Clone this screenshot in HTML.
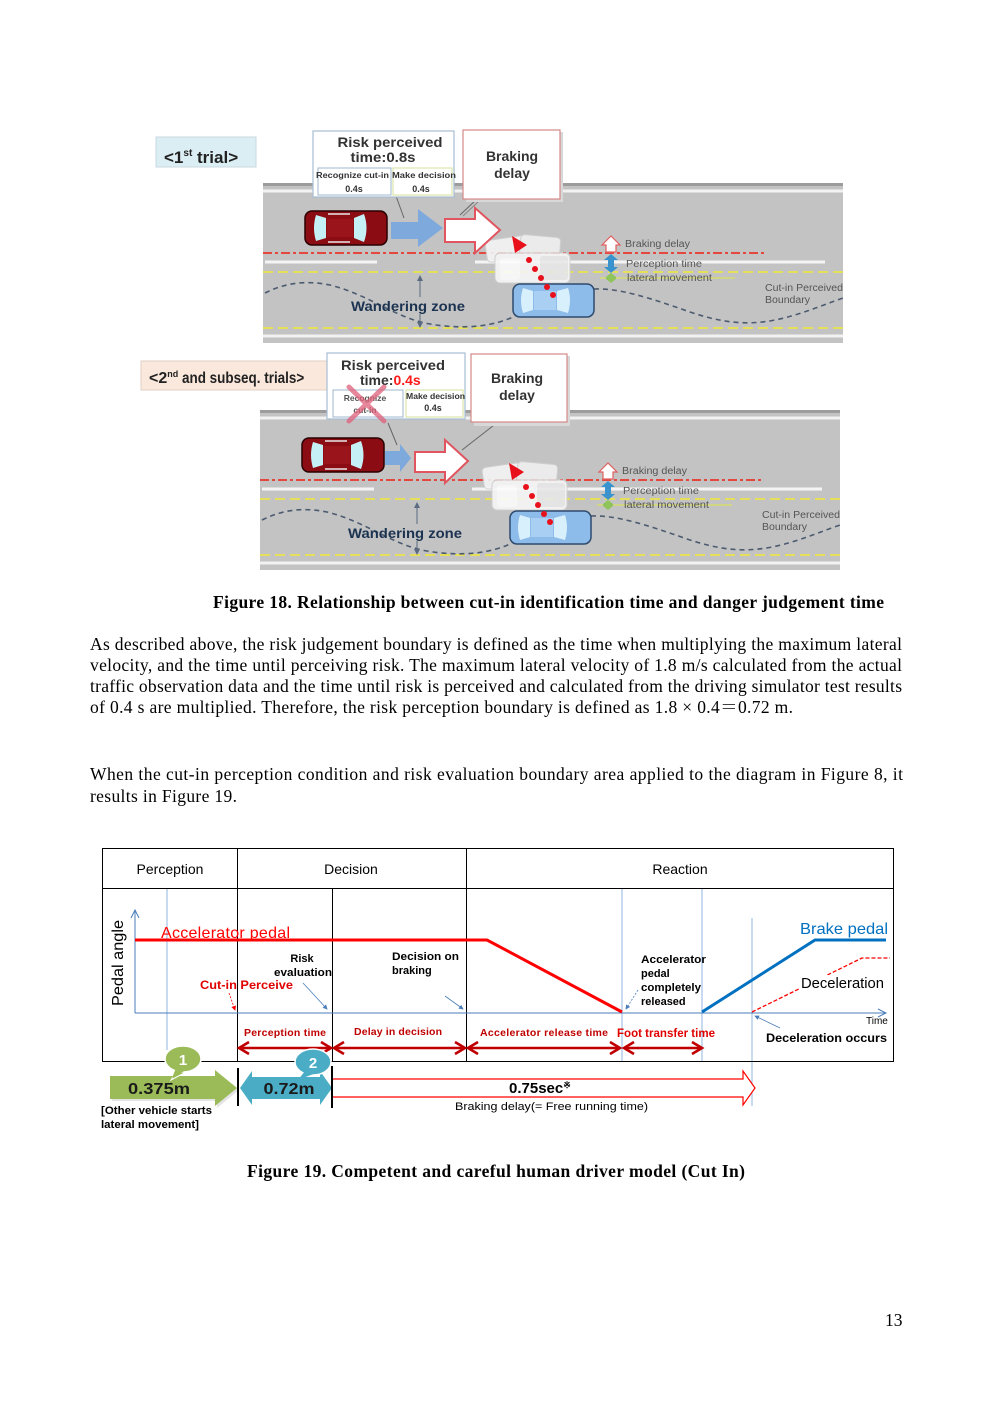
<!DOCTYPE html>
<html><head><meta charset="utf-8">
<style>
html,body{margin:0;padding:0;background:#fff;}
svg{display:block;}
.s{font-family:"Liberation Sans",sans-serif;}
.r{font-family:"Liberation Serif","Noto Serif CJK SC",serif;}
</style></head>
<body>
<svg width="992" height="1403" viewBox="0 0 992 1403" xmlns="http://www.w3.org/2000/svg">
<defs>
<marker id="ab" markerWidth="6" markerHeight="6" refX="5" refY="3" orient="auto" markerUnits="strokeWidth"><path d="M0,0 L6,3 L0,6Z" fill="#4a7ebb"/></marker>
<marker id="ar" markerWidth="6" markerHeight="6" refX="5" refY="3" orient="auto" markerUnits="strokeWidth"><path d="M0,0 L6,3 L0,6Z" fill="#ff0000"/></marker>
</defs>
<rect width="992" height="1403" fill="#fff"/>

<!-- ===================== FIGURE 18 : 1st trial ===================== -->
<g id="road1">
<rect x="263" y="183" width="580" height="160" fill="#c3c3c3"/>
<rect x="263" y="183" width="580" height="3" fill="#9c9c9c"/>
<line x1="263" y1="191" x2="843" y2="191" stroke="#f2f2f2" stroke-width="3"/>
<line x1="263" y1="253" x2="765" y2="253" stroke="#e4473d" stroke-width="2" stroke-dasharray="9 3 3 3"/>
<line x1="265" y1="262" x2="377" y2="262" stroke="#f4f4f4" stroke-width="3"/>
<line x1="475" y1="262" x2="825" y2="262" stroke="#f4f4f4" stroke-width="3"/>
<line x1="263" y1="272" x2="843" y2="272" stroke="#e6df5a" stroke-width="2" stroke-dasharray="10 5"/>
<line x1="600" y1="278" x2="735" y2="278" stroke="#d6dc70" stroke-width="1.5"/>
<line x1="263" y1="328" x2="843" y2="328" stroke="#e6df5a" stroke-width="2" stroke-dasharray="10 5"/>
<line x1="263" y1="336" x2="843" y2="336" stroke="#f2f2f2" stroke-width="3"/>
<path d="M265,293 C285,283 305,280 330,285 C370,295 395,318 430,324 C465,330 495,326 515,316 M594,289 C620,288 650,298 690,312 C720,322 745,326 775,320 C800,315 820,306 843,298" fill="none" stroke="#4d5b70" stroke-width="1.6" stroke-dasharray="5 4"/>
<line x1="420" y1="277" x2="420" y2="297" stroke="#5a6a80" stroke-width="1"/>
<line x1="420" y1="314" x2="420" y2="326" stroke="#5a6a80" stroke-width="1"/>
<path d="M417,281 L420,275 L423,281Z M417,322 L420,328 L423,322Z" fill="#5a6a80"/>
<text x="351" y="311" class="s" font-size="14" font-weight="bold" fill="#1b3350" textLength="114" lengthAdjust="spacingAndGlyphs">Wandering zone</text>
<g opacity="0.9">
<rect x="486" y="238" width="40" height="22" rx="4" fill="#f4f4f4" stroke="#d0d0d0" transform="rotate(-8 506 249)"/>
<rect x="520" y="236" width="40" height="24" rx="4" fill="#f0f0f0" stroke="#d0d0d0" transform="rotate(5 540 248)"/>
<rect x="495" y="253" width="75" height="30" rx="5" fill="#f6f6f6" stroke="#d0d0d0"/>
<rect x="540" y="256" width="28" height="24" rx="3" fill="#e8e8e8"/>
<rect x="500" y="258" width="20" height="22" rx="3" fill="#fcfcfc"/>
</g>
<rect x="513" y="284" width="81" height="33" rx="7" fill="#8dbbea" stroke="#2e4b6e" stroke-width="1.5"/>
<path d="M523,288 L533,291 L533,310 L523,313 Q519,300 523,288Z" fill="#d8f0fb"/>
<path d="M557,291 L568,288 Q572,300 568,313 L557,310Z" fill="#d8f0fb"/>
<rect x="534" y="291" width="22" height="19" fill="#a9d0f3"/>
<rect x="305" y="211" width="82" height="34" rx="7" fill="#8c0c14" stroke="#2a0000" stroke-width="1.5"/>
<path d="M316,215 L326,218 L326,238 L316,241 Q312,228 316,215Z" fill="#c4f0f6"/>
<path d="M354,218 L364,214 Q369,228 364,242 L354,238Z" fill="#c4f0f6"/>
<rect x="327" y="219" width="26" height="18" fill="#9a141c"/>
<line x1="328" y1="214" x2="350" y2="214" stroke="#e8e8e8" stroke-width="1.5"/>
<line x1="328" y1="242" x2="350" y2="242" stroke="#e8e8e8" stroke-width="1.5"/>
<g fill="#e8101a">
<circle cx="553" cy="295" r="3"/><circle cx="547" cy="287" r="3"/><circle cx="541" cy="278" r="3"/><circle cx="535" cy="269" r="3"/><circle cx="529" cy="260" r="3"/>
<polygon points="512,236 527,245 515,253"/>
</g>
<polygon points="602,245 611,236 620,245 616,245 616,252 606,252 606,245" fill="#fff" stroke="#e06060" stroke-width="1.2"/>
<polygon points="611,254 618,260 614,260 614,267 618,267 611,273 604,267 608,267 608,260 604,260" fill="#3a93cc"/>
<polygon points="606,277 611,273 616,277 616,279 611,283 606,279" fill="#8fc45a"/>
<text x="625" y="247" class="s" font-size="10" fill="#555" textLength="65" lengthAdjust="spacingAndGlyphs">Braking delay</text>
<text x="626" y="267" class="s" font-size="10" fill="#555" textLength="76" lengthAdjust="spacingAndGlyphs">Perception time</text>
<text x="627" y="281" class="s" font-size="10" fill="#555" textLength="85" lengthAdjust="spacingAndGlyphs">lateral movement</text>
<text x="765" y="291" class="s" font-size="10" fill="#555" textLength="78" lengthAdjust="spacingAndGlyphs">Cut-in Perceived</text>
<text x="765" y="303" class="s" font-size="10" fill="#555" textLength="45" lengthAdjust="spacingAndGlyphs">Boundary</text>
</g>

<polygon points="391,222 418,222 418,209 443,228 418,247 418,239 391,239" fill="#7ea9dd"/>
<polygon points="445,219 475,219 475,208 500,230 475,253 475,242 445,242" fill="#fff" stroke="#e05560" stroke-width="2"/>
<line x1="396" y1="196" x2="404" y2="218" stroke="#666" stroke-width="1"/>
<line x1="477" y1="199" x2="460" y2="215" stroke="#666" stroke-width="1"/>
<line x1="480" y1="200" x2="463" y2="216" stroke="#888" stroke-width="1"/>

<rect x="156" y="137" width="100" height="30" fill="#dbeef4" stroke="#c8d8e0" stroke-width="1"/>
<text x="164" y="163" class="s" font-size="17" font-weight="bold" fill="#222">&lt;1<tspan font-size="10" dy="-7">st</tspan><tspan dy="7"> trial&gt;</tspan></text>

<rect x="313" y="131" width="141" height="66" fill="#fff" stroke="#a6bfd6" stroke-width="1.2"/>
<text x="390" y="147" class="s" font-size="14" font-weight="bold" fill="#333" text-anchor="middle" textLength="105" lengthAdjust="spacingAndGlyphs">Risk perceived</text>
<text x="383" y="162" class="s" font-size="14" font-weight="bold" fill="#333" text-anchor="middle" textLength="65" lengthAdjust="spacingAndGlyphs">time:0.8s</text>
<rect x="318" y="168" width="73" height="27" fill="#fff" stroke="#9fb7cc" stroke-width="1"/>
<rect x="393" y="168" width="59" height="27" fill="#fff" stroke="#d6df9a" stroke-width="1"/>
<text x="316" y="178" class="s" font-size="8" font-weight="bold" fill="#333" textLength="73" lengthAdjust="spacingAndGlyphs">Recognize cut-in</text>
<text x="392" y="178" class="s" font-size="8" font-weight="bold" fill="#333" textLength="64" lengthAdjust="spacingAndGlyphs">Make decision</text>
<text x="354" y="192" class="s" font-size="9" font-weight="bold" fill="#333" text-anchor="middle">0.4s</text>
<text x="421" y="192" class="s" font-size="9" font-weight="bold" fill="#333" text-anchor="middle">0.4s</text>
<rect x="466" y="132" width="97" height="70" fill="#d8d8d8"/>
<rect x="463" y="130" width="97" height="69" fill="#fff" stroke="#d48888" stroke-width="1.2"/>
<text x="512" y="161" class="s" font-size="14" font-weight="bold" fill="#333" text-anchor="middle">Braking</text>
<text x="512" y="178" class="s" font-size="14" font-weight="bold" fill="#333" text-anchor="middle">delay</text>

<!-- ===================== FIGURE 18 : 2nd trials ===================== -->
<g transform="translate(-3,227)">
<rect x="263" y="183" width="580" height="160" fill="#c3c3c3"/>
<rect x="263" y="183" width="580" height="3" fill="#9c9c9c"/>
<line x1="263" y1="191" x2="843" y2="191" stroke="#f2f2f2" stroke-width="3"/>
<line x1="263" y1="253" x2="765" y2="253" stroke="#e4473d" stroke-width="2" stroke-dasharray="9 3 3 3"/>
<line x1="265" y1="262" x2="377" y2="262" stroke="#f4f4f4" stroke-width="3"/>
<line x1="475" y1="262" x2="825" y2="262" stroke="#f4f4f4" stroke-width="3"/>
<line x1="263" y1="272" x2="843" y2="272" stroke="#e6df5a" stroke-width="2" stroke-dasharray="10 5"/>
<line x1="600" y1="278" x2="735" y2="278" stroke="#d6dc70" stroke-width="1.5"/>
<line x1="263" y1="328" x2="843" y2="328" stroke="#e6df5a" stroke-width="2" stroke-dasharray="10 5"/>
<line x1="263" y1="336" x2="843" y2="336" stroke="#f2f2f2" stroke-width="3"/>
<path d="M265,293 C285,283 305,280 330,285 C370,295 395,318 430,324 C465,330 495,326 515,316 M594,289 C620,288 650,298 690,312 C720,322 745,326 775,320 C800,315 820,306 843,298" fill="none" stroke="#4d5b70" stroke-width="1.6" stroke-dasharray="5 4"/>
<line x1="420" y1="277" x2="420" y2="297" stroke="#5a6a80" stroke-width="1"/>
<line x1="420" y1="314" x2="420" y2="326" stroke="#5a6a80" stroke-width="1"/>
<path d="M417,281 L420,275 L423,281Z M417,322 L420,328 L423,322Z" fill="#5a6a80"/>
<text x="351" y="311" class="s" font-size="14" font-weight="bold" fill="#1b3350" textLength="114" lengthAdjust="spacingAndGlyphs">Wandering zone</text>
<g opacity="0.9">
<rect x="486" y="238" width="40" height="22" rx="4" fill="#f4f4f4" stroke="#d0d0d0" transform="rotate(-8 506 249)"/>
<rect x="520" y="236" width="40" height="24" rx="4" fill="#f0f0f0" stroke="#d0d0d0" transform="rotate(5 540 248)"/>
<rect x="495" y="253" width="75" height="30" rx="5" fill="#f6f6f6" stroke="#d0d0d0"/>
<rect x="540" y="256" width="28" height="24" rx="3" fill="#e8e8e8"/>
<rect x="500" y="258" width="20" height="22" rx="3" fill="#fcfcfc"/>
</g>
<rect x="513" y="284" width="81" height="33" rx="7" fill="#8dbbea" stroke="#2e4b6e" stroke-width="1.5"/>
<path d="M523,288 L533,291 L533,310 L523,313 Q519,300 523,288Z" fill="#d8f0fb"/>
<path d="M557,291 L568,288 Q572,300 568,313 L557,310Z" fill="#d8f0fb"/>
<rect x="534" y="291" width="22" height="19" fill="#a9d0f3"/>
<rect x="305" y="211" width="82" height="34" rx="7" fill="#8c0c14" stroke="#2a0000" stroke-width="1.5"/>
<path d="M316,215 L326,218 L326,238 L316,241 Q312,228 316,215Z" fill="#c4f0f6"/>
<path d="M354,218 L364,214 Q369,228 364,242 L354,238Z" fill="#c4f0f6"/>
<rect x="327" y="219" width="26" height="18" fill="#9a141c"/>
<line x1="328" y1="214" x2="350" y2="214" stroke="#e8e8e8" stroke-width="1.5"/>
<line x1="328" y1="242" x2="350" y2="242" stroke="#e8e8e8" stroke-width="1.5"/>
<g fill="#e8101a">
<circle cx="553" cy="295" r="3"/><circle cx="547" cy="287" r="3"/><circle cx="541" cy="278" r="3"/><circle cx="535" cy="269" r="3"/><circle cx="529" cy="260" r="3"/>
<polygon points="512,236 527,245 515,253"/>
</g>
<polygon points="602,245 611,236 620,245 616,245 616,252 606,252 606,245" fill="#fff" stroke="#e06060" stroke-width="1.2"/>
<polygon points="611,254 618,260 614,260 614,267 618,267 611,273 604,267 608,267 608,260 604,260" fill="#3a93cc"/>
<polygon points="606,277 611,273 616,277 616,279 611,283 606,279" fill="#8fc45a"/>
<text x="625" y="247" class="s" font-size="10" fill="#555" textLength="65" lengthAdjust="spacingAndGlyphs">Braking delay</text>
<text x="626" y="267" class="s" font-size="10" fill="#555" textLength="76" lengthAdjust="spacingAndGlyphs">Perception time</text>
<text x="627" y="281" class="s" font-size="10" fill="#555" textLength="85" lengthAdjust="spacingAndGlyphs">lateral movement</text>
<text x="765" y="291" class="s" font-size="10" fill="#555" textLength="78" lengthAdjust="spacingAndGlyphs">Cut-in Perceived</text>
<text x="765" y="303" class="s" font-size="10" fill="#555" textLength="45" lengthAdjust="spacingAndGlyphs">Boundary</text>
</g>

<polygon points="385,451 400,451 400,444 411,458 400,472 400,465 385,465" fill="#7ea9dd"/>
<polygon points="415,452 445,452 445,440 468,461 445,483 445,472 415,472" fill="#fff" stroke="#e05560" stroke-width="2"/>
<line x1="388" y1="423" x2="397" y2="445" stroke="#666" stroke-width="1"/>
<line x1="498" y1="422" x2="462" y2="450" stroke="#666" stroke-width="1"/>

<rect x="141" y="361" width="186" height="29" fill="#fae8dc" stroke="#e0cfc4" stroke-width="1"/>
<text x="149" y="383" class="s" font-size="16" font-weight="bold" fill="#222">&lt;2<tspan font-size="9" dy="-6">nd</tspan><tspan dy="6" textLength="126" lengthAdjust="spacingAndGlyphs"> and subseq. trials&gt;</tspan></text>

<rect x="327" y="353" width="138" height="66" fill="#fff" stroke="#a6bfd6" stroke-width="1.2"/>
<text x="393" y="370" class="s" font-size="14" font-weight="bold" fill="#333" text-anchor="middle" textLength="104" lengthAdjust="spacingAndGlyphs">Risk perceived</text>
<text x="360" y="385" class="s" font-size="14" font-weight="bold" fill="#333">time:<tspan fill="#ff1a1a">0.4s</tspan></text>
<rect x="333" y="390" width="70" height="27" fill="#fff" stroke="#9fb7cc" stroke-width="1"/>
<rect x="406" y="390" width="57" height="27" fill="#fff" stroke="#d6df9a" stroke-width="1"/>
<text x="365" y="401" class="s" font-size="8.5" font-weight="bold" fill="#555" text-anchor="middle">Recognize</text>
<text x="365" y="413" class="s" font-size="8.5" font-weight="bold" fill="#555" text-anchor="middle">cut-in</text>
<text x="406" y="399" class="s" font-size="8" font-weight="bold" fill="#333" textLength="59" lengthAdjust="spacingAndGlyphs">Make decision</text>
<text x="433" y="411" class="s" font-size="9" font-weight="bold" fill="#333" text-anchor="middle">0.4s</text>
<g stroke="#e0607a" stroke-width="5" opacity="0.75" stroke-linecap="round">
<line x1="349" y1="387" x2="384" y2="421"/>
<line x1="384" y1="387" x2="349" y2="421"/>
</g>
<rect x="474" y="356" width="96" height="70" fill="#d8d8d8"/>
<rect x="471" y="354" width="96" height="68" fill="#fff" stroke="#d48888" stroke-width="1.2"/>
<text x="517" y="383" class="s" font-size="14" font-weight="bold" fill="#333" text-anchor="middle">Braking</text>
<text x="517" y="400" class="s" font-size="14" font-weight="bold" fill="#333" text-anchor="middle">delay</text>

<!-- ===================== TEXT ===================== -->
<text x="213" y="608" class="r" font-size="17.5" font-weight="bold" fill="#000" textLength="671" lengthAdjust="spacing">Figure 18. Relationship between cut-in identification time and danger judgement time</text>
<g class="r" font-size="17.5" fill="#000">
<text x="90" y="650" textLength="812" lengthAdjust="spacing">As described above, the risk judgement boundary is defined as the time when multiplying the maximum lateral</text>
<text x="90" y="671" textLength="812" lengthAdjust="spacing">velocity, and the time until perceiving risk. The maximum lateral velocity of 1.8 m/s calculated from the actual</text>
<text x="90" y="692" textLength="812" lengthAdjust="spacing">traffic observation data and the time until risk is perceived and calculated from the driving simulator test results</text>
<text x="90" y="713" textLength="703" lengthAdjust="spacing">of 0.4 s are multiplied. Therefore, the risk perception boundary is defined as 1.8 × 0.4＝0.72 m.</text>
<text x="90" y="780" textLength="813" lengthAdjust="spacing">When the cut-in perception condition and risk evaluation boundary area applied to the diagram in Figure 8, it</text>
<text x="90" y="802" textLength="147" lengthAdjust="spacing">results in Figure 19.</text>
</g>

<!-- ===================== FIGURE 19 ===================== -->
<g stroke="#8fb4e0" stroke-width="1">
<line x1="167" y1="888" x2="167" y2="1050"/>
<line x1="622" y1="888" x2="622" y2="1062"/>
<line x1="702" y1="888" x2="702" y2="1062"/>
<line x1="752" y1="918" x2="752" y2="1106"/>
</g>
<g stroke="#000" stroke-width="1" fill="none">
<rect x="102.5" y="848.5" width="791" height="213"/>
<line x1="102" y1="888.5" x2="894" y2="888.5"/>
<line x1="237.5" y1="848" x2="237.5" y2="1062"/>
<line x1="466.5" y1="848" x2="466.5" y2="1062"/>
<line x1="332.5" y1="888" x2="332.5" y2="1062"/>
</g>
<g class="s" font-size="14" fill="#000" text-anchor="middle">
<text x="170" y="874">Perception</text>
<text x="351" y="874">Decision</text>
<text x="680" y="874">Reaction</text>
</g>
<g stroke="#4a7ebb" stroke-width="1" fill="none">
<line x1="135" y1="1013" x2="135" y2="910"/>
<polyline points="131,918 135,910 139,918"/>
<line x1="135" y1="1013" x2="886" y2="1013"/>
<polyline points="878,1009 886,1013 878,1017"/>
</g>
<text transform="translate(123,1006) rotate(-90)" class="s" font-size="16" fill="#000" textLength="86" lengthAdjust="spacingAndGlyphs">Pedal angle</text>
<polyline points="135,940 487,940 622,1012" fill="none" stroke="#ff0000" stroke-width="3"/>
<polyline points="702,1012 815,940 886,940" fill="none" stroke="#0070c0" stroke-width="3"/>
<polyline points="752,1012 862,958 890,958" fill="none" stroke="#ff0000" stroke-width="1.3" stroke-dasharray="4 2"/>
<text x="161" y="938" class="s" font-size="16" fill="#ff0000" textLength="129" lengthAdjust="spacing">Accelerator  pedal</text>
<text x="800" y="934" class="s" font-size="16" fill="#0070c0" textLength="88" lengthAdjust="spacingAndGlyphs">Brake pedal</text>
<rect x="799" y="975" width="88" height="17" fill="#fff"/>
<text x="801" y="988" class="s" font-size="15" fill="#000" textLength="83" lengthAdjust="spacingAndGlyphs">Deceleration</text>
<text x="866" y="1024" class="s" font-size="10" fill="#000">Time</text>
<text x="766" y="1042" class="s" font-size="12" font-weight="bold" fill="#000" textLength="121" lengthAdjust="spacingAndGlyphs">Deceleration occurs</text>
<g class="s" font-size="11" font-weight="bold" fill="#000">
<text x="302" y="962" text-anchor="middle">Risk</text>
<text x="274" y="976" textLength="58" lengthAdjust="spacingAndGlyphs">evaluation</text>
<text x="392" y="960" textLength="67" lengthAdjust="spacingAndGlyphs">Decision on</text>
<text x="392" y="974">braking</text>
<text x="641" y="963" textLength="65" lengthAdjust="spacingAndGlyphs">Accelerator</text>
<text x="641" y="977">pedal</text>
<text x="641" y="991" textLength="60" lengthAdjust="spacingAndGlyphs">completely</text>
<text x="641" y="1005">released</text>
</g>
<text x="200" y="989" class="s" font-size="12" font-weight="bold" fill="#e00000" textLength="93" lengthAdjust="spacingAndGlyphs">Cut-in Perceive</text>
<g stroke="#4a7ebb" stroke-width="0.8" fill="none">
<line x1="303" y1="983" x2="327" y2="1009" marker-end="url(#ab)"/>
<line x1="445" y1="996" x2="463" y2="1009" marker-end="url(#ab)"/>
<line x1="638" y1="990" x2="626" y2="1009" stroke-dasharray="2 1.5" marker-end="url(#ab)"/>
<line x1="780" y1="1028" x2="755" y2="1016" marker-end="url(#ab)"/>
</g>
<line x1="229" y1="993" x2="235" y2="1010" stroke="#ff0000" stroke-width="0.8" stroke-dasharray="2 1.5" marker-end="url(#ar)"/>
<g class="s" font-size="10.5" font-weight="bold" fill="#c00000">
<text x="244" y="1036" textLength="82" lengthAdjust="spacing">Perception  time</text>
<text x="354" y="1035" textLength="88" lengthAdjust="spacing">Delay  in  decision</text>
<text x="480" y="1036" textLength="128" lengthAdjust="spacing">Accelerator  release  time</text>
</g>
<text x="617" y="1037" class="s" font-size="11.5" font-weight="bold" fill="#e00000" textLength="98" lengthAdjust="spacingAndGlyphs">Foot transfer time</text>
<g stroke="#c00000" stroke-width="2.6" fill="none">
<line x1="239" y1="1048" x2="331" y2="1048"/>
<polyline points="249,1042 239,1048 249,1054"/><polyline points="321,1042 331,1048 321,1054"/>
<line x1="334" y1="1048" x2="465" y2="1048"/>
<polyline points="344,1042 334,1048 344,1054"/><polyline points="455,1042 465,1048 455,1054"/>
<line x1="468" y1="1048" x2="620" y2="1048"/>
<polyline points="478,1042 468,1048 478,1054"/><polyline points="610,1042 620,1048 610,1054"/>
<line x1="624" y1="1048" x2="702" y2="1048"/>
<polyline points="634,1042 624,1048 634,1054"/><polyline points="692,1042 702,1048 692,1054"/>
</g>
<polygon points="112,1078 217,1078 217,1072 239,1090 217,1108 217,1101 112,1101" fill="#d8d8d8" opacity="0.7"/>
<polygon points="110,1076 215,1076 215,1070 237,1088 215,1106 215,1099 110,1099" fill="#9bbb59"/>
<text x="159" y="1094" class="s" font-size="16" font-weight="bold" fill="#1a1a1a" text-anchor="middle" textLength="62" lengthAdjust="spacingAndGlyphs">0.375m</text>
<polygon points="178,1069 171,1080 190,1070" fill="#9bbb59" stroke="#fff" stroke-width="1"/>
<ellipse cx="183" cy="1059" rx="18" ry="13" fill="#9bbb59" stroke="#fff" stroke-width="1.5"/>
<polygon points="176,1068 172,1078 186,1070" fill="#9bbb59"/>
<text x="183" y="1065" class="s" font-size="15" font-weight="bold" fill="#fff" text-anchor="middle">1</text>

<line x1="238" y1="1068" x2="238" y2="1106" stroke="#000" stroke-width="2"/>
<polygon points="240,1088 252,1071 252,1077 320,1077 320,1071 332,1088 320,1105 320,1099 252,1099 252,1105" fill="#4bacc6"/>
<text x="289" y="1094" class="s" font-size="16" font-weight="bold" fill="#1a1a1a" text-anchor="middle" textLength="51" lengthAdjust="spacingAndGlyphs">0.72m</text>
<ellipse cx="313" cy="1062" rx="18" ry="13" fill="#4bacc6" stroke="#fff" stroke-width="1.5"/>
<polygon points="305,1071 298,1080 316,1073" fill="#4bacc6"/>
<text x="313" y="1068" class="s" font-size="15" font-weight="bold" fill="#fff" text-anchor="middle">2</text>
<line x1="332" y1="1066" x2="332" y2="1108" stroke="#000" stroke-width="2"/>

<polyline points="333,1079 743,1079 743,1071 755,1088 743,1105 743,1097 333,1097" fill="#fff" stroke="#ff0000" stroke-width="1.2"/>
<text x="509" y="1093" class="s" font-size="15" font-weight="bold" fill="#000">0.75sec<tspan font-size="9" dy="-5">※</tspan></text>
<text x="455" y="1110" class="s" font-size="11" fill="#000" textLength="193" lengthAdjust="spacingAndGlyphs">Braking delay(= Free running time)</text>
<text x="101" y="1114" class="s" font-size="11" font-weight="bold" fill="#000" textLength="111" lengthAdjust="spacingAndGlyphs">[Other vehicle starts</text>
<text x="101" y="1128" class="s" font-size="11" font-weight="bold" fill="#000" textLength="98" lengthAdjust="spacingAndGlyphs">lateral movement]</text>

<text x="247" y="1177" class="r" font-size="17.5" font-weight="bold" fill="#000" textLength="498" lengthAdjust="spacing">Figure 19. Competent and careful human driver model (Cut In)</text>
<text x="885" y="1326" class="r" font-size="17.5" fill="#000">13</text>
</svg>
</body></html>
